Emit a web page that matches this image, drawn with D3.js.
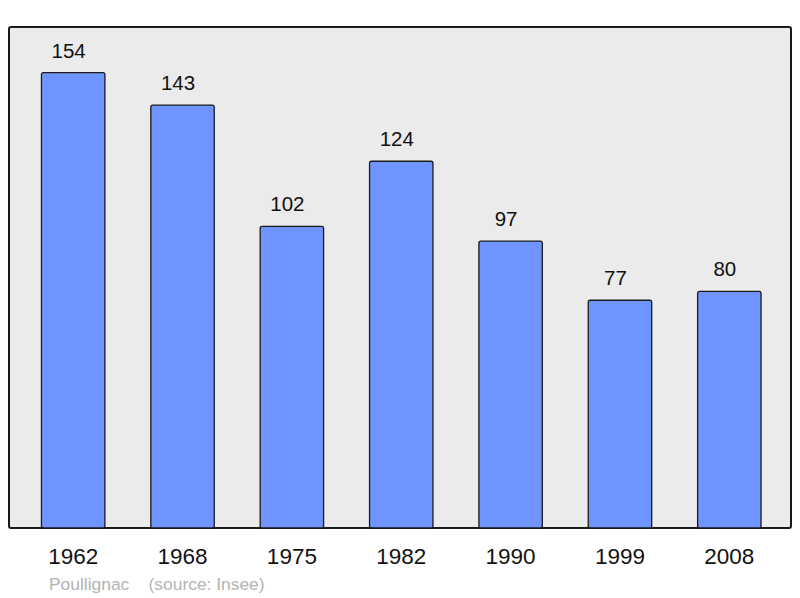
<!DOCTYPE html>
<html><head><meta charset="utf-8">
<script src="https://cdn.jsdelivr.net/npm/d3@7"></script>
<style>body{margin:0;background:#fff}svg{display:block}</style>
</head><body>
<svg id="c" width="800" height="598"></svg>
<script>
const years = ["1962","1968","1975","1982","1990","1999","2008"];
const population = [154,143,102,124,97,77,80];
const title = "Poullignac";
const source = "(source: Insee)";

const svg = d3.select("#c");
const frame = {x0:9, y0:27, x1:791, y1:528};
svg.append("rect").attr("x",frame.x0).attr("y",frame.y0)
  .attr("width",frame.x1-frame.x0).attr("height",frame.y1-frame.y0)
  .attr("rx",2).attr("fill","#ebebeb").attr("stroke","#1a1a1a").attr("stroke-width",2);

const x = d3.scaleBand().domain(years).range([18.5,784]).paddingInner(0.42).paddingOuter(0.21);
const y = d3.scaleLinear().domain([0,169.4]).range([frame.y1,frame.y0]);

svg.append("g").selectAll("rect").data(population).join("rect")
  .attr("x",(d,i)=>x(years[i])).attr("y",d=>y(d))
  .attr("width",x.bandwidth()).attr("height",d=>y(0)-y(d))
  .attr("rx",2).attr("fill","#7094ff").attr("stroke","#1a1a1a").attr("stroke-width",1.3);

svg.append("g").selectAll("text").data(population).join("text")
  .attr("x",(d,i)=>x(years[i])+x.bandwidth()/2-4.5).attr("y",d=>y(d)-15)
  .attr("text-anchor","middle").attr("font-family","Liberation Sans, Arial, sans-serif")
  .attr("font-size",20.5).attr("fill","#111").text(d=>d);

const xa = d3.axisBottom(x).tickSize(0).tickPadding(0);
const ga = svg.append("g").attr("transform",`translate(0,${frame.y1})`).call(xa);
ga.select(".domain").remove();
ga.selectAll("text").attr("y",36).attr("dy",0).attr("font-family","Liberation Sans, Arial, sans-serif")
  .attr("font-size",22.5).attr("fill","#111");

svg.append("text").attr("x",49).attr("y",590).attr("font-family","Liberation Sans, Arial, sans-serif")
  .attr("font-size",17.4).attr("fill","#b3b3b3").attr("xml:space","preserve").text(title + "    " + source);
</script>
</body></html>
